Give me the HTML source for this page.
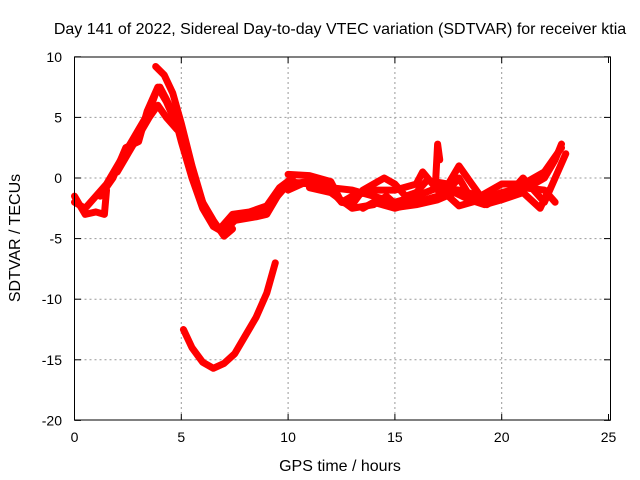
<!DOCTYPE html>
<html><head><meta charset="utf-8"><style>
body{margin:0;background:#fff}
svg{display:block;font-family:"Liberation Sans",sans-serif}
</style></head><body>
<svg id="chart" width="640" height="480">
<rect width="640" height="480" fill="#fff"/>
<text x="340" y="34" font-size="16" text-anchor="middle">Day 141 of 2022, Sidereal Day-to-day VTEC variation (SDTVAR) for receiver ktia</text>
<g id="grid"></g>
<g id="series"></g>
<rect x="74.5" y="57" width="536" height="363" fill="none" stroke="#000"/>
<g id="axes"></g>
<text x="340" y="471" font-size="16" text-anchor="middle">GPS time / hours</text>
<text transform="translate(20,238) rotate(-90)" font-size="16" text-anchor="middle">SDTVAR / TECUs</text>
</svg>
<script>
const xTicks=[0,5,10,15,20,25];
const yTicks=[10,5,0,-5,-10,-15,-20];
const trackA=[[0,-2],[0.5,-2.5],[1,-1.5],[1.5,-0.5],[2,1],[2.5,2.5],[3,4],[3.5,5.5],[3.8,7],[4,7.5],[4.3,6.5],[4.7,5],[5,3],[5.5,0],[6,-2.5],[6.5,-4],[7,-4.5],[7.5,-3.5],[8,-3],[9,-2.5],[9.5,-1.5],[10,-0.5],[11,-0.3],[12,-0.5]];
const trackB=[[3.8,9.2],[4.2,8.5],[4.6,7],[5,4.5],[5.5,1],[6,-2],[6.5,-3.5],[7,-4.8],[7.4,-4.2]];
const trackB2=[[2,0.5],[2.5,2],[3,3.5],[3.5,5],[3.9,6],[4.3,5],[4.8,4]];
const trackB3=[[1.2,-1.5],[1.8,0],[2.4,2.5],[3,3],[3.4,5.5],[3.9,7.5],[4.3,6.3],[5,3.5],[5.6,0],[6.2,-3],[6.8,-4.2],[7.4,-3],[8.2,-2.8],[9,-2.3],[9.6,-0.8],[10.2,0]];
const trackLow=[[5.1,-12.5],[5.5,-14],[6,-15.2],[6.5,-15.7],[7,-15.3],[7.5,-14.5],[8,-13],[8.5,-11.5],[9,-9.5],[9.4,-7]];
const trackC=[[7.5,-3.5],[8.5,-3.2],[9,-3],[9.5,-1.5],[10,-0.3],[11,-0.5],[12,-0.8],[13,-1],[14,-1.5],[15,-2],[16,-1.5],[17,-0.8],[18,-1],[19,-1.5],[20,-0.5],[21,-0.5],[22,0.5],[22.8,2.5]];
const trackD=[[10,-1],[11,-0.2],[12,-1],[12.5,-2],[13,-1.5],[14,-1],[15,-1],[16,-0.5],[16.3,0.5],[17,-1],[17.5,-1.5],[18,-2.3],[19,-1.8],[20,-1.2],[21,-0.8],[22,-1],[22.5,-2]];
const trackE=[[13.5,-2.5],[14,-2],[15,-2.5],[16,-2],[17,-1.5],[17.5,-1],[18,0],[18.5,-1.5],[19.5,-2],[20.5,-1],[21,0],[22,-2],[22.5,0],[23,2]];
const trackG=[[10,0.3],[11,0.2],[12,-0.3],[12.5,-2],[13,-2.2],[13.5,-1],[14,-0.5],[14.5,0],[15,-0.5],[15.5,-1.5],[16,-1.2],[16.5,-0.2],[17.5,-0.5],[18,1],[18.6,-0.5],[19.3,-2.2],[20,-1.5],[20.8,-0.8],[21.5,-0.5],[22,0],[22.5,1.5],[22.8,2.8]];
const trackH=[[11,-0.8],[12,-1.2],[13,-2.5],[14,-2.2],[14.6,-1.5],[15.2,-2.4],[16,-2.2],[17,-1.8],[17.8,-1.2],[18.5,-1.8],[19.2,-2.2],[20,-1.8],[21,-1.2],[21.8,-2.5],[22.2,-1]];
const trackSpike=[[16.9,-0.5],[17,2.8],[17.1,1.5]];
const trackF=[[0,-1.5],[0.5,-3],[1,-2.8],[1.4,-3],[1.5,-1]];
const X=v=>74.5+v*21.36, Y=v=>178-v*12.12;
const ns='http://www.w3.org/2000/svg';
const grid=document.getElementById('grid'),axes=document.getElementById('axes'),ser=document.getElementById('series');
function mk(t,a,p){const e=document.createElementNS(ns,t);for(const k in a)e.setAttribute(k,a[k]);p.appendChild(e);return e;}
xTicks.forEach(t=>{
 if(t>0&&t<25){const l=mk('line',{x1:X(t),x2:X(t),y1:57,y2:420,stroke:'#999','stroke-dasharray':'2,3'},grid);
 
 }
 mk('line',{x1:X(t),x2:X(t),y1:420,y2:414,stroke:'#000'},axes);
 mk('line',{x1:X(t),x2:X(t),y1:57,y2:63,stroke:'#000'},axes);
 const tx=mk('text',{x:X(t),y:442,'font-size':14,'text-anchor':'middle'},axes);tx.textContent=t;
 
 
});
yTicks.forEach(t=>{
 if(t<10&&t>-20){const l=mk('line',{x1:74.5,x2:610.5,y1:Y(t),y2:Y(t),stroke:'#999','stroke-dasharray':'2,3'},grid);
 
 }
 mk('line',{x1:74.5,x2:81,y1:Y(t),y2:Y(t),stroke:'#000'},axes);
 mk('line',{x1:604,x2:610.5,y1:Y(t),y2:Y(t),stroke:'#000'},axes);
 const tx=mk('text',{x:62,y:Y(t)+5,'font-size':14,'text-anchor':'end'},axes);tx.textContent=t;
 
 
});
[trackA,trackB,trackB2,trackB3,trackLow,trackC,trackD,trackE,trackG,trackH,trackSpike,trackF].forEach(tr=>{
 const p=mk('polyline',{points:tr.map(d=>X(d[0])+','+Y(d[1])).join(' '),fill:'none',stroke:'#f00','stroke-width':7,'stroke-linejoin':'round','stroke-linecap':'round'},ser);
 
 
});
</script>
</body></html>
